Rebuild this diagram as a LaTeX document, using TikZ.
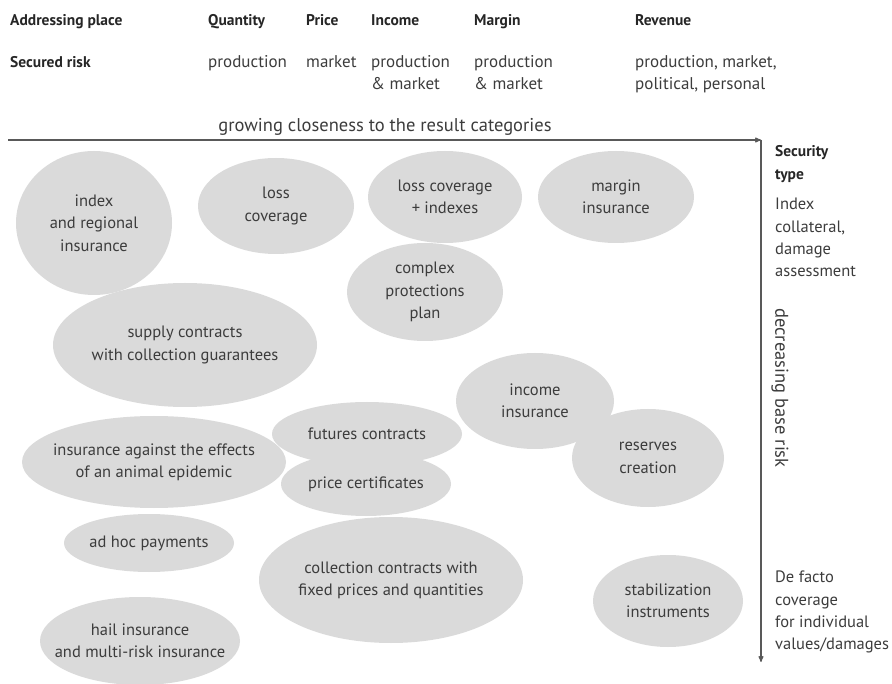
\documentclass[tikz,border=0pt]{standalone}
\usepackage{fontspec}
\setmainfont{PT Sans}
\usetikzlibrary{arrows,shapes.geometric}
\definecolor{blobgray}{HTML}{DADADA}
\definecolor{inkgray}{HTML}{3C3C3C}

\begin{document}
\begin{tikzpicture}[x=1pt,y=-1pt,>=stealth',
  every node/.style={font=\fontsize{16.5}{22.3}\selectfont,text=inkgray},
  blob/.style={ellipse,fill=blobgray,inner sep=0pt,outer sep=0pt},
  blobtxt/.style={align=center},
  head/.style={anchor=base west,inner sep=0pt,font=\bfseries\fontsize{15.5}{22.8}\selectfont,text=black!85},
  cell/.style={anchor=base west,inner sep=0pt,align=left,font=\fontsize{17}{22}\selectfont},
  axislabel/.style={font=\fontsize{18.5}{22}\selectfont},
  axis/.style={draw=black!65,line width=1.1pt}]
\useasboundingbox (0,0) rectangle (892,684);

% header rows
\node[head] (hplace) at (10,26) {Addressing place};
\node[head] (hqty)   at (208,26) {Quantity};
\node[head] (hprice) at (306,26) {Price};
\node[head] (hinc)   at (371,26) {Income};
\node[head] (hmarg)  at (474,26) {Margin};
\node[head] (hrev)   at (635,26) {Revenue};

\node[head] (hrisk)  at (10,68) {Secured risk};
\node[cell] (rqty)   at (208,68) {production};
\node[cell] (rprice) at (306,68) {market};
\node[cell] (rinc)   at (371,90) {production\\\& market};
\node[cell] (rmarg)  at (474,90) {production\\\& market};
\node[cell] (rrev)   at (635,90) {production, market,\\political, personal};

% axes
\coordinate (origin) at (8,140);
\coordinate (corner) at (761,140);
\coordinate (bottom) at (761,662);
\draw[axis,->] (origin) -- (corner);
\draw[axis,->] (corner) -- (bottom);
\node[axislabel] (closeness) at (385,127) {growing closeness to the result categories};
\node[axislabel,rotate=-90] (baserisk) at (780,388) {decreasing base risk};

% right column
\node[head,anchor=north west,align=left] (sectype) at (775,145) {Security\\type};
\node[anchor=north west,align=left,inner sep=0pt] (sectop) at (775,198)
  {Index\\collateral,\\damage\\assessment};
\node[anchor=north west,align=left,inner sep=0pt] (secbot) at (775,571)
  {De facto\\coverage\\for individual\\values/damages};

% the blobs
\node[blob,minimum width=156pt,minimum height=144pt] (idx)     at (94,223)  {};
\node[blob,minimum width=156pt,minimum height=96pt]  (loss)    at (276,206) {};
\node[blob,minimum width=154pt,minimum height=92pt]  (lossix)  at (445,197) {};
\node[blob,minimum width=156pt,minimum height=92pt]  (margin)  at (616,197) {};
\node[blob,minimum width=156pt,minimum height=98pt]  (complex) at (425,292) {};
\node[blob,minimum width=264pt,minimum height=124pt] (supply)  at (185,345) {};
\node[blob,minimum width=158pt,minimum height=96pt]  (income)  at (535,401) {};
\node[blob,minimum width=190pt,minimum height=64pt]  (futures) at (367,434) {};
\node[blob,minimum width=264pt,minimum height=92pt]  (animal)  at (154,462) {};
\node[blob,minimum width=152pt,minimum height=98pt]  (reserve) at (648,458) {};
\node[blob,minimum width=170pt,minimum height=64pt]  (pricec)  at (366,484) {};
\node[blob,minimum width=170pt,minimum height=58pt]  (adhoc)   at (149,543) {};
\node[blob,minimum width=264pt,minimum height=126pt] (collect) at (391,580) {};
\node[blob,minimum width=150pt,minimum height=92pt]  (stab)    at (668,601) {};
\node[blob,minimum width=200pt,minimum height=88pt]  (hail)    at (140,641) {};

\node[blobtxt] (tidx)     at (idx)     {index\\and regional\\insurance};
\node[blobtxt] (tloss)    at (loss)    {loss\\coverage};
\node[blobtxt] (tlossix)  at (lossix)  {loss coverage\\+ indexes};
\node[blobtxt] (tmargin)  at (margin)  {margin\\insurance};
\node[blobtxt] (tcomplex) at (complex) {complex\\protections\\plan};
\node[blobtxt] (tsupply)  at (supply)  {supply contracts\\with collection guarantees};
\node[blobtxt] (tincome)  at (income)  {income\\insurance};
\node[blobtxt] (tfutures) at (futures) {futures contracts};
\node[blobtxt] (tanimal)  at (animal)  {insurance against the effects\\of an animal epidemic};
\node[blobtxt] (treserve) at (reserve) {reserves\\creation};
\node[blobtxt] (tpricec)  at (pricec)  {price certificates};
\node[blobtxt] (tadhoc)   at (adhoc)   {ad hoc payments};
\node[blobtxt] (tcollect) at (collect) {collection contracts with\\fixed prices and quantities};
\node[blobtxt] (tstab)    at (stab)    {stabilization\\instruments};
\node[blobtxt] (thail)    at (hail)    {hail insurance\\and multi-risk insurance};

\end{tikzpicture}
\end{document}
